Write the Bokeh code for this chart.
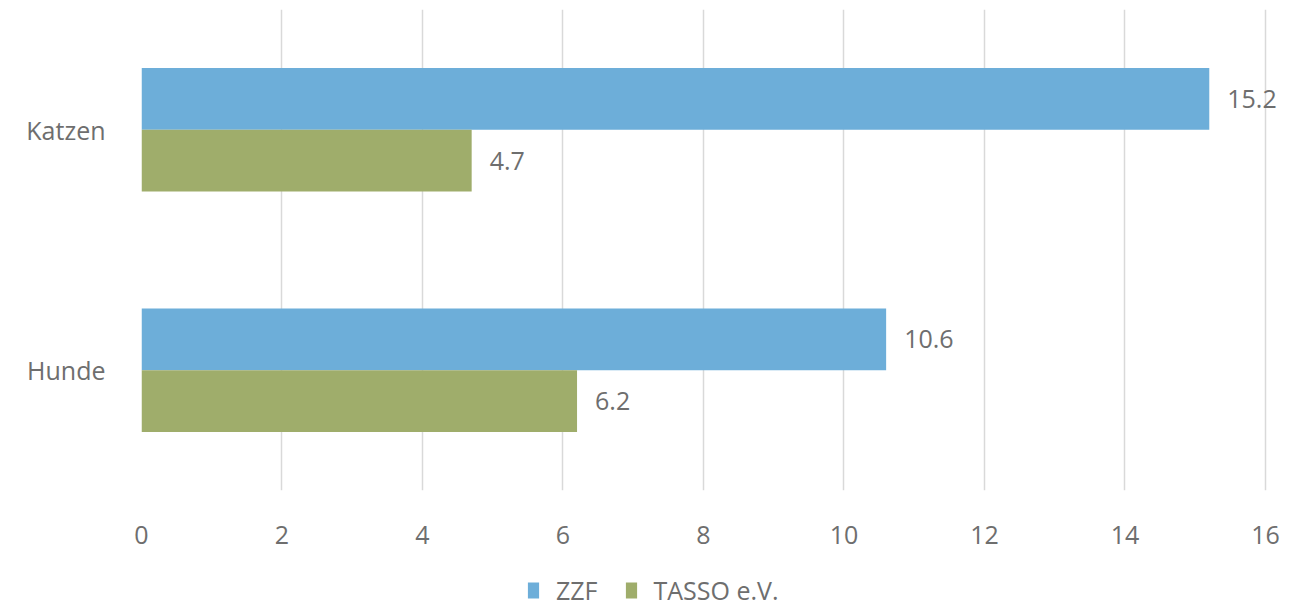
from bokeh.plotting import figure
from bokeh.layouts import column
from bokeh.models import ColumnDataSource, FactorRange, Range1d, Legend, LegendItem, LabelSet
from bokeh.transform import dodge
from bokeh.core.properties import value
from bokeh.embed import file_html
from bokeh.resources import INLINE

categories = ["Hunde", "Katzen"]
zzf = [10.6, 15.2]
tasso = [6.2, 4.7]
series_names = ["ZZF", "TASSO e.V."]
x_ticks = [0, 2, 4, 6, 8, 10, 12, 14, 16]

BLUE = "#6DAED9"
GREEN = "#9FAD6B"
TXT = "#6e6e6e"
FONT = "Open Sans"
FS = "25px"

src = ColumnDataSource(dict(
    cat=categories,
    zzf=zzf,
    tasso=tasso,
    zzf_lbl=[f"{v:.1f}" for v in zzf],
    tasso_lbl=[f"{v:.1f}" for v in tasso],
))

W = 1281
p = figure(width=W, height=564, y_range=FactorRange(factors=categories, range_padding=0),
           x_range=Range1d(0, 16.228), output_backend="svg", toolbar_location=None,
           min_border_left=141, min_border_right=0, min_border_top=9, min_border_bottom=74)
p.outline_line_color = None

bh = 0.257
r1 = p.hbar(y=dodge("cat", bh / 2, range=p.y_range), right="zzf", left=0, height=bh,
            source=src, color=BLUE, line_color=None)
r2 = p.hbar(y=dodge("cat", -bh / 2, range=p.y_range), right="tasso", left=0, height=bh,
            source=src, color=GREEN, line_color=None)

for col, lbl, off in (("zzf", "zzf_lbl", bh / 2), ("tasso", "tasso_lbl", -bh / 2)):
    p.add_layout(LabelSet(x=col, y=dodge("cat", off, range=p.y_range), text=lbl, source=src,
                          x_offset=18, text_baseline="middle", text_align="left",
                          text_font=value(FONT), text_font_size=FS, text_color=TXT))

p.xaxis.ticker = x_ticks
p.xgrid.ticker = x_ticks
p.xgrid.grid_line_color = "#d9d9d9"
p.xgrid.grid_line_width = 1.5
p.ygrid.grid_line_color = None

for ax in (p.xaxis, p.yaxis):
    ax.axis_line_color = None
    ax.major_tick_line_color = None
    ax.minor_tick_line_color = None
    ax.major_label_text_font = FONT
    ax.major_label_text_font_size = FS
    ax.major_label_text_color = TXT
p.xaxis.major_label_standoff = 29
p.yaxis.major_label_standoff = 30

# legend strip below the chart (its frame is aligned with the chart's frame)
p2 = figure(width=W, height=43, x_range=Range1d(0, 1), y_range=Range1d(0, 1),
            x_axis_type=None, y_axis_type=None, output_backend="svg", toolbar_location=None,
            min_border_left=141, min_border_right=0, min_border_top=0, min_border_bottom=0)
p2.outline_line_color = None
p2.xgrid.visible = False
p2.ygrid.visible = False
# same data, outside this strip's visible range: only used for the legend swatches
l1 = p2.hbar(y="zzf", right="zzf", left="zzf", height=0.01, source=src, color=BLUE, line_color=None)
l2 = p2.hbar(y="tasso", right="tasso", left="tasso", height=0.01, source=src, color=GREEN, line_color=None)
legend = Legend(items=[LegendItem(label=series_names[0], renderers=[l1]),
                       LegendItem(label=series_names[1], renderers=[l2])],
                orientation="horizontal", location=(385, 0),
                label_text_font=FONT, label_text_font_size=FS, label_text_color=TXT,
                glyph_width=14, glyph_height=20, spacing=26, label_standoff=16,
                border_line_color=None, background_fill_alpha=0, margin=0, padding=0)
p2.add_layout(legend, "center")

layout = column(p, p2, spacing=0)
open("out.html", "w").write(file_html(layout, INLINE))
